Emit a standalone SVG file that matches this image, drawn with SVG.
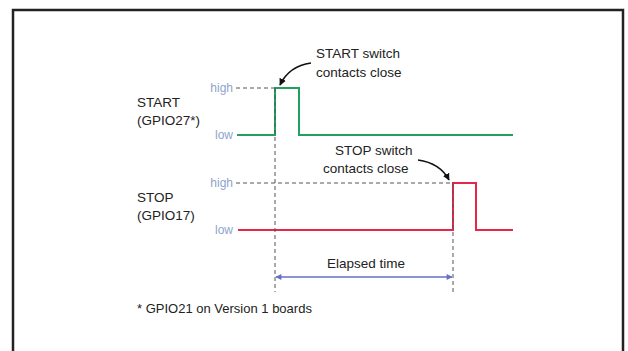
<svg xmlns="http://www.w3.org/2000/svg" width="628" height="351" viewBox="0 0 628 351">
<style>
text{font-family:"Liberation Sans",Arial,sans-serif;fill:#222}
.lbl{font-size:13.5px}
.lvl{font-size:12px;fill:#8fa3cc;text-anchor:end}
.dash{stroke:#555;stroke-width:1;stroke-dasharray:4,3;fill:none}
.green{stroke:#22a060;stroke-width:2;fill:none}
.red{stroke:#e8264a;stroke-width:2;fill:none}
.call{stroke:#111;stroke-width:1.6;fill:none}
</style>
<defs>
<marker id="ah" viewBox="0 0 10 10" refX="9" refY="5" markerWidth="7" markerHeight="7" orient="auto" markerUnits="userSpaceOnUse">
<path d="M0,0 L10,5 L0,10 z" fill="#111"/>
</marker>
<marker id="bh" viewBox="0 0 10 10" refX="9" refY="5" markerWidth="8" markerHeight="6" orient="auto-start-reverse" markerUnits="userSpaceOnUse">
<path d="M0,0 L10,5 L0,10 z" fill="#6670c8"/>
</marker>
</defs>
<rect x="13" y="10" width="610" height="360" fill="#fff" stroke="#222" stroke-width="2.5"/>
<g id="start-signal">
<text class="lbl" x="137" y="107">START</text>
<text class="lbl" x="137" y="125">(GPIO27*)</text>
<text class="lvl" x="233" y="92">high</text>
<text class="lvl" x="233" y="139">low</text>
<line class="dash" x1="236" y1="88" x2="275" y2="88"/>
<path class="green" d="M237,135 H275 V88 H299 V135 H513"/>
</g>
<g id="stop-signal">
<text class="lbl" x="137" y="202">STOP</text>
<text class="lbl" x="137" y="220">(GPIO17)</text>
<text class="lvl" x="233" y="187">high</text>
<text class="lvl" x="233" y="234">low</text>
<line class="dash" x1="236" y1="183" x2="453" y2="183"/>
<path class="red" d="M238,230 H453 V183 H476 V230 H513"/>
</g>
<g id="start-note">
<text class="lbl" x="316" y="58">START switch</text>
<text class="lbl" x="316" y="77">contacts close</text>
</g>
<g id="stop-note">
<text class="lbl" x="335" y="155">STOP switch</text>
<text class="lbl" x="323" y="173">contacts close</text>
</g>
<g id="elapsed">
<text class="lbl" x="366" y="268" text-anchor="middle">Elapsed time</text>
</g>
<g id="footnote">
<text class="lbl" x="137" y="313" style="font-size:13px">* GPIO21 on Version 1 boards</text>
</g>
<g id="connectors">
<path class="call" d="M311,63 Q289,66 280,85" marker-end="url(#ah)"/>
<path class="call" d="M418,160 Q440,163 449,180" marker-end="url(#ah)"/>
<line class="dash" x1="275" y1="88" x2="275" y2="292"/>
<line class="dash" x1="453" y1="183" x2="453" y2="292"/>
<line x1="276" y1="277" x2="452" y2="277" stroke="#6670c8" stroke-width="1.5" marker-start="url(#bh)" marker-end="url(#bh)"/>
</g>
</svg>
